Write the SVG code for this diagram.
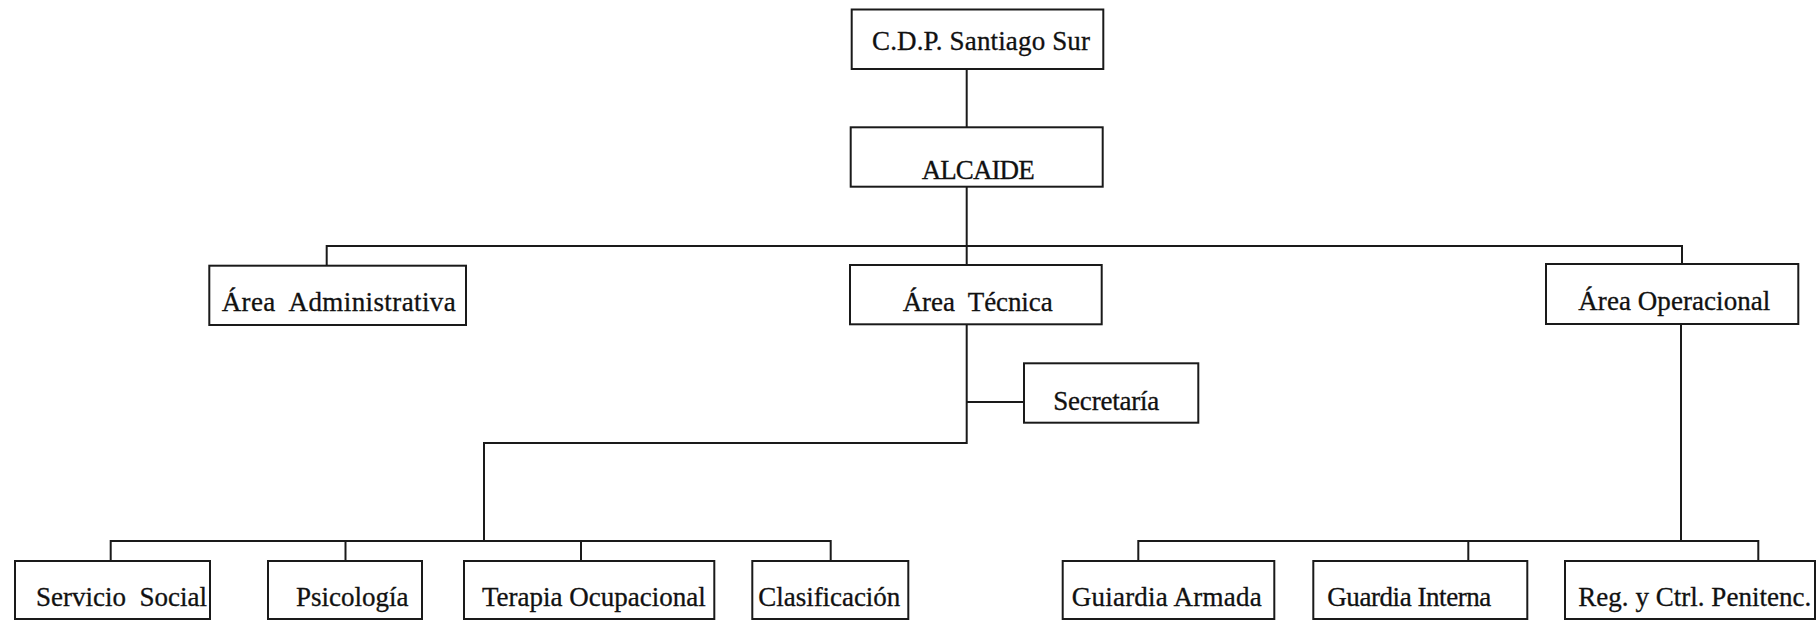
<svg xmlns="http://www.w3.org/2000/svg" width="1820" height="621" viewBox="0 0 1820 621">
<style>
.box{fill:#fff;stroke:#1a1a1a;stroke-width:2}
.ln{fill:none;stroke:#1a1a1a;stroke-width:2}
text{font-family:"Liberation Serif","Times New Roman",serif;font-size:27px;fill:#111;stroke:#111;stroke-width:0.3}
</style>
<rect width="1820" height="621" fill="#fff"/>
<g id="connectors">
<path class="ln" d="M966.7 69 V127.3"/>
<path class="ln" d="M966.7 186.7 V265"/>
<path class="ln" d="M326.7 265.7 V246 H1682 V264"/>
<path class="ln" d="M966.7 324.3 V443 H484 V541"/>
<path class="ln" d="M966.7 402 H1024"/>
<path class="ln" d="M110.7 561 V541 H830.7 V561"/>
<path class="ln" d="M345.5 541 V561"/>
<path class="ln" d="M581 541 V561"/>
<path class="ln" d="M1681 324 V541"/>
<path class="ln" d="M1138.3 561 V541 H1758.3 V561"/>
<path class="ln" d="M1468.3 541 V561"/>
</g>
<g id="cdp"><rect class="box" x="851.7" y="9.5" width="251.6" height="59.5"/><text x="872" y="50" textLength="218" lengthAdjust="spacing">C.D.P. Santiago Sur</text></g>
<g id="alcaide"><rect class="box" x="850.7" y="127.3" width="252" height="59.4"/><text x="921.7" y="179.3" textLength="113" lengthAdjust="spacing">ALCAIDE</text></g>
<g id="area-administrativa"><rect class="box" x="209.3" y="265.7" width="256.7" height="59.3"/><text x="221.7" y="310.7" xml:space="preserve" textLength="234" lengthAdjust="spacing">Área  Administrativa</text></g>
<g id="area-tecnica"><rect class="box" x="850" y="265" width="251.7" height="59.3"/><text x="902.7" y="310.7" xml:space="preserve" textLength="150" lengthAdjust="spacing">Área  Técnica</text></g>
<g id="area-operacional"><rect class="box" x="1546" y="264" width="252.3" height="60"/><text x="1578.3" y="310" textLength="192" lengthAdjust="spacing">Área Operacional</text></g>
<g id="secretaria"><rect class="box" x="1024" y="363.3" width="174.3" height="59.4"/><text x="1053.3" y="410" textLength="106" lengthAdjust="spacing">Secretaría</text></g>
<g id="servicio-social"><rect class="box" x="15" y="561" width="195" height="58"/><text x="36" y="606" xml:space="preserve">Servicio  Social</text></g>
<g id="psicologia"><rect class="box" x="268" y="561" width="154" height="58"/><text x="296" y="606">Psicología</text></g>
<g id="terapia-ocupacional"><rect class="box" x="464" y="561" width="250.3" height="58"/><text x="482" y="606">Terapia Ocupacional</text></g>
<g id="clasificacion"><rect class="box" x="752.3" y="561" width="156" height="58"/><text x="758.3" y="606" textLength="142" lengthAdjust="spacing">Clasificación</text></g>
<g id="guiardia-armada"><rect class="box" x="1062.7" y="561" width="211.6" height="58"/><text x="1071.7" y="606" textLength="190" lengthAdjust="spacing">Guiardia Armada</text></g>
<g id="guardia-interna"><rect class="box" x="1313.3" y="561" width="214" height="58"/><text x="1327.3" y="606" textLength="164" lengthAdjust="spacing">Guardia Interna</text></g>
<g id="reg-ctrl"><rect class="box" x="1565" y="561" width="250" height="58"/><text x="1578.3" y="606" textLength="233" lengthAdjust="spacing">Reg. y Ctrl. Penitenc.</text></g>
</svg>
